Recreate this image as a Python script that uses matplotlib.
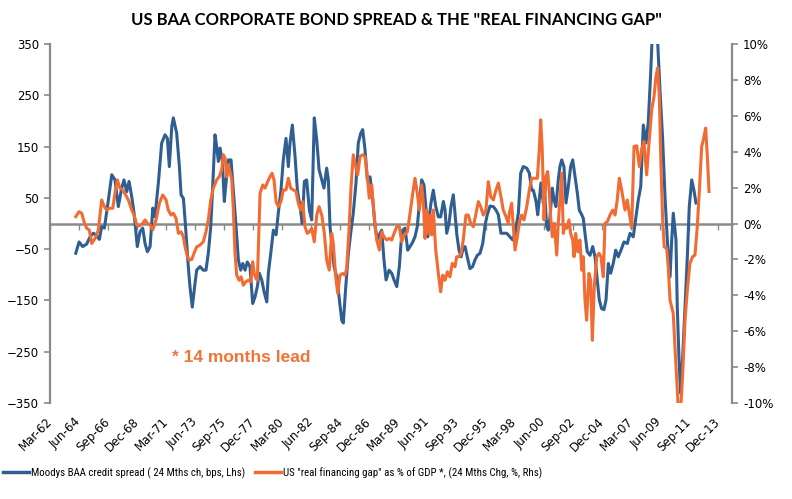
import matplotlib
matplotlib.use("Agg")
import matplotlib.pyplot as plt
from matplotlib import font_manager
from matplotlib.lines import Line2D

# Moodys BAA credit spread, 24m change (bps, lhs)
baa_dates = [1964.16, 1964.42, 1964.70, 1965.01, 1965.27, 1965.52, 1965.73, 1965.99, 1966.17, 1966.38,
             1966.69, 1966.95, 1967.20, 1967.46, 1967.72, 1967.90, 1968.11, 1968.29, 1968.50, 1968.68,
             1968.93, 1969.14, 1969.35, 1969.53, 1969.71, 1969.92, 1970.13, 1970.30, 1970.56, 1970.82,
             1971.08, 1971.26, 1971.41, 1971.60, 1971.72, 1971.98, 1972.19, 1972.32, 1972.50, 1972.63,
             1972.76, 1972.88, 1973.01, 1973.19, 1973.40, 1973.53, 1973.79, 1974.04, 1974.25, 1974.43,
             1974.62, 1974.77, 1974.95, 1975.08, 1975.21, 1975.34, 1975.52, 1975.67, 1975.80, 1975.98,
             1976.19, 1976.37, 1976.58, 1976.76, 1976.94, 1977.10, 1977.28, 1977.45, 1977.66, 1977.87,
             1978.05, 1978.23, 1978.38, 1978.57, 1978.75, 1978.96, 1979.08, 1979.27, 1979.47, 1979.68,
             1979.85, 1980.06, 1980.24, 1980.45, 1980.63, 1980.76, 1980.94, 1981.15, 1981.33, 1981.54,
             1981.71, 1981.87, 1982.05, 1982.26, 1982.44, 1982.64, 1982.83, 1983.01, 1983.22, 1983.39,
             1983.60, 1983.73, 1983.86, 1984.04, 1984.17, 1984.38, 1984.56, 1984.77, 1984.89, 1985.08,
             1985.28, 1985.46, 1985.66, 1985.87, 1986.05, 1986.24, 1986.39, 1986.57, 1986.75, 1986.96,
             1987.17, 1987.35, 1987.52, 1987.73, 1987.86, 1988.04, 1988.20, 1988.43, 1988.64, 1988.82,
             1989.03, 1989.23, 1989.36, 1989.49, 1989.67, 1989.88, 1990.06, 1990.27, 1990.44, 1990.62,
             1990.83, 1990.96, 1991.14, 1991.30, 1991.43, 1991.55, 1991.68, 1991.86, 1992.05, 1992.25,
             1992.43, 1992.64, 1992.77, 1992.90, 1993.08, 1993.23, 1993.41, 1993.54, 1993.67, 1993.85,
             1994.01, 1994.18, 1994.32, 1994.49, 1994.70, 1994.91, 1995.09, 1995.27, 1995.48, 1995.69,
             1995.87, 1996.04, 1996.25, 1996.51, 1996.72, 1996.90, 1997.10, 1997.28, 1997.55, 1997.80,
             1998.01, 1998.19, 1998.45, 1998.63, 1998.83, 1999.10, 1999.30, 1999.48, 1999.61, 1999.82,
             1999.95, 2000.07, 2000.20, 2000.38, 2000.51, 2000.64, 2000.77, 2000.90, 2001.08, 2001.21,
             2001.36, 2001.54, 2001.67, 2001.81, 2001.98, 2002.14, 2002.32, 2002.50, 2002.66, 2002.84,
             2003.02, 2003.17, 2003.36, 2003.48, 2003.61, 2003.79, 2004.00, 2004.21, 2004.39, 2004.56,
             2004.72, 2004.90, 2005.08, 2005.24, 2005.42, 2005.60, 2005.80, 2005.99, 2006.19, 2006.40,
             2006.63, 2006.89, 2007.10, 2007.35, 2007.56, 2007.74, 2007.93, 2008.13, 2008.34, 2008.51,
             2008.70, 2008.86, 2009.03, 2009.21, 2009.42, 2009.63, 2009.81, 2009.99, 2010.20, 2010.33,
             2010.45, 2010.66, 2010.76, 2010.89, 2011.02, 2011.18, 2011.36, 2011.54, 2011.69, 2011.88,
             2012.05, 2012.21]
baa_bps = [-58, -36, -45, -40, -26, -19, -22, -31, -6, -9,
           46, 95, 85, 33, 69, 85, 62, 82, 52, 20,
           -45, -16, -9, -39, -55, -45, 30, 13, 79, 157,
           173, 166, 111, 189, 206, 176, 111, 56, 49, 7,
           -39, -84, -123, -163, -117, -91, -84, -91, -91, -58,
           -6, 72, 173, 150, 121, 147, 121, 43, 79, 124,
           124, 65, -6, -71, -91, -78, -91, -75, -84, -156,
           -143, -123, -97, -110, -133, -153, -97, -58, -13, -22,
           20, 65, 124, 166, 111, 157, 192, 131, 65, 33,
           0, 82, 85, 26, 7, 206, 163, 105, 85, 69,
           108, 85, -6, -52, -84, -104, -143, -189, -194, -123,
           -58, -19, 20, 79, 157, 176, 183, 144, 85, 91,
           46, -6, -32, -19, -13, -71, -110, -91, -97, -110,
           -123, -84, -38, -13, -9, -52, -45, -36, -26, -6,
           52, 85, 75, 26, -26, 13, 40, 65, 33, 13,
           13, 43, 26, -19, 0, 33, 56, 20, -19, -52,
           -65, -48, -45, -65, -88, -84, -71, -62, -58, -39,
           -3, 17, 34, 33, 26, 17, -19, -19, -19, -26,
           -32, -19, 20, 98, 111, 108, 98, 65, 65, 43,
           17, 46, 79, 40, 52, -6, -13, 13, 69, 46,
           33, 85, 111, 124, 111, 40, 72, 111, 124, 91,
           59, 26, 17, 10, -19, -55, -62, -45, -65, -110,
           -149, -166, -168, -149, -78, -97, -78, -52, -65, -52,
           -36, -39, -19, -26, 13, 46, 72, 192, 157, 196,
           293, 390, 440, 370, 261, 163, 52, -32, -104, -32,
           20, -32, -163, -260, -331, -260, -163, -65, 33, 85,
           65, 40]

# US "real financing gap" as % of GDP, 24m change (%, rhs), shifted 14 months
gap_dates = [1964.16, 1964.42, 1964.63, 1964.80, 1965.01, 1965.21, 1965.40, 1965.66, 1965.91, 1966.17,
             1966.38, 1966.56, 1966.76, 1967.03, 1967.20, 1967.38, 1967.59, 1967.80, 1968.03, 1968.24,
             1968.50, 1968.68, 1968.89, 1969.09, 1969.35, 1969.53, 1969.71, 1969.92, 1970.13, 1970.38,
             1970.64, 1970.90, 1971.16, 1971.33, 1971.54, 1971.72, 1971.93, 1972.11, 1972.32, 1972.50,
             1972.63, 1972.81, 1972.96, 1973.15, 1973.32, 1973.53, 1973.79, 1974.04, 1974.25, 1974.43,
             1974.62, 1974.82, 1975.08, 1975.28, 1975.47, 1975.59, 1975.73, 1975.86, 1975.98, 1976.11,
             1976.25, 1976.37, 1976.50, 1976.63, 1976.81, 1976.97, 1977.14, 1977.33, 1977.53, 1977.72,
             1977.87, 1977.99, 1978.13, 1978.23, 1978.34, 1978.44, 1978.65, 1978.82, 1979.03, 1979.21,
             1979.37, 1979.52, 1979.68, 1979.85, 1980.06, 1980.24, 1980.45, 1980.63, 1980.81, 1981.02,
             1981.23, 1981.40, 1981.59, 1981.74, 1981.92, 1982.10, 1982.26, 1982.44, 1982.64, 1982.83,
             1983.01, 1983.22, 1983.42, 1983.60, 1983.80, 1983.99, 1984.11, 1984.30, 1984.46, 1984.63,
             1984.84, 1985.02, 1985.15, 1985.33, 1985.49, 1985.66, 1985.85, 1986.00, 1986.18, 1986.39,
             1986.57, 1986.75, 1986.90, 1987.09, 1987.27, 1987.48, 1987.68, 1987.86, 1988.04, 1988.25,
             1988.45, 1988.64, 1988.82, 1989.03, 1989.23, 1989.41, 1989.61, 1989.85, 1990.06, 1990.27,
             1990.44, 1990.62, 1990.78, 1990.96, 1991.09, 1991.22, 1991.35, 1991.48, 1991.61, 1991.74,
             1991.86, 1992.05, 1992.25, 1992.43, 1992.59, 1992.77, 1992.95, 1993.15, 1993.33, 1993.54,
             1993.67, 1993.85, 1994.01, 1994.18, 1994.39, 1994.57, 1994.76, 1994.96, 1995.17, 1995.35,
             1995.53, 1995.73, 1995.94, 1996.12, 1996.31, 1996.51, 1996.72, 1996.90, 1997.10, 1997.28,
             1997.49, 1997.67, 1997.75, 1997.93, 1998.06, 1998.19, 1998.37, 1998.52, 1998.70, 1998.89,
             1999.10, 1999.30, 1999.48, 1999.74, 1999.92, 2000.07, 2000.18, 2000.30, 2000.44, 2000.59,
             2000.72, 2000.84, 2000.95, 2001.08, 2001.23, 2001.42, 2001.54, 2001.67, 2001.81, 2001.93,
             2002.06, 2002.19, 2002.37, 2002.50, 2002.66, 2002.76, 2002.89, 2003.05, 2003.22, 2003.36,
             2003.48, 2003.61, 2003.74, 2003.92, 2004.05, 2004.18, 2004.33, 2004.52, 2004.70, 2004.85,
             2005.03, 2005.16, 2005.34, 2005.55, 2005.76, 2005.94, 2006.11, 2006.27, 2006.45, 2006.71,
             2006.89, 2007.04, 2007.23, 2007.41, 2007.62, 2007.82, 2008.00, 2008.18, 2008.39, 2008.59,
             2008.78, 2008.96, 2009.11, 2009.24, 2009.37, 2009.50, 2009.63, 2009.75, 2009.94, 2010.06,
             2010.20, 2010.33, 2010.45, 2010.58, 2010.71, 2010.84, 2011.02, 2011.18, 2011.36, 2011.54,
             2011.74, 2011.95, 2012.13, 2012.31, 2012.46, 2012.65, 2012.78, 2012.96, 2013.09, 2013.22]
gap_pct = [0.38, 0.66, 0.57, 0.10, -0.27, -0.36, -1.11, -0.83, -0.36, 1.31,
           0.94, 0.75, 0.85, 0.85, 1.69, 2.43, 1.97, 1.87, 1.59, 1.31,
           0.75, 0.47, -0.08, -0.14, 0.01, 0.20, 0.01, -0.08, -0.36, 0.20,
           1.13, 1.59, 1.31, 0.75, 0.47, 0.57, 0.29, -0.55, -0.46, -0.74,
           -1.30, -1.85, -2.04, -2.00, -1.66, -1.30, -1.20, -1.02, -0.46, 0.20,
           1.31, 1.97, 2.43, 2.61, 2.99, 3.83, 3.64, 2.61, 3.27, 2.89,
           2.43, 0.75, -1.66, -2.88, -3.16, -2.97, -3.44, -3.25, -3.16, -3.25,
           -2.13, -2.78, -3.06, -3.16, -0.55, 1.69, 2.15, 1.97, 2.33, 2.61,
           2.80, 2.43, 1.22, 0.94, 1.22, 1.87, 1.87, 2.52, 1.97, 1.87,
           1.78, 1.13, 0.75, 1.22, -0.18, -0.55, -0.46, -0.27, -1.02, 0.47,
           0.94, 0.47, -0.55, -2.04, -2.60, -0.55, -1.11, -2.97, -3.90, -2.88,
           -2.78, -2.88, -2.50, -0.36, 2.06, 3.83, 3.17, 2.71, 3.73, 3.83,
           3.73, 2.61, 1.41, 2.15, 0.47, -0.92, -1.48, -0.46, -0.74, -0.92,
           -0.83, -0.92, -0.55, -0.18, -0.18, -1.02, -0.64, -0.46, 0.57, 1.69,
           2.52, 1.69, 0.75, 2.15, 1.13, -0.83, 0.75, -0.55, 0.47, -0.64,
           0.75, -1.48, -2.78, -3.81, -2.88, -3.16, -2.69, -2.97, -2.22, -2.41,
           -1.85, -1.85, -1.66, -0.92, 0.47, 0.47, 0.01, -0.18, 0.57, 1.22,
           0.94, 0.47, 0.75, 2.33, 1.50, 1.31, 1.87, 2.25, 1.50, 0.75,
           0.38, 0.01, 0.57, 1.13, -0.18, -1.48, -0.74, 0.01, 0.47, 0.20,
           0.94, 1.87, 2.52, 2.52, 2.52, 4.11, 5.78, 4.11, 0.20, 2.61,
           2.89, 1.87, 0.38, -0.74, 0.01, -1.76, 0.01, 1.31, 2.80, -0.55,
           -0.08, -0.27, 0.20, -0.55, -0.92, -1.85, -0.55, -1.58, -0.92, -2.60,
           -1.85, -4.27, -5.39, -2.78, -3.16, -6.51, -3.53, -1.85, -1.66, -1.85,
           -2.97, 0.01, 0.10, 0.47, 0.75, 0.47, 1.31, 2.52, 1.87, 0.75,
           1.31, 0.57, -0.25, 4.29, 4.33, 3.17, 4.11, 4.57, 2.71, 4.66,
           6.34, 7.08, 8.20, 8.67, 7.08, 3.17, 0.20, -1.30, -1.39, -2.41,
           -4.27, -4.65, -5.02, -6.88, -8.56, -10.4, -10.4, -8.37, -5.39, -3.71,
           -2.22, -1.85, -1.76, -0.18, 1.69, 4.29, 4.66, 5.32, 3.73, 1.78]

tick_labels = ['Mar-62', 'Jun-64', 'Sep-66', 'Dec-68', 'Mar-71', 'Jun-73', 'Sep-75', 'Dec-77',
               'Mar-80', 'Jun-82', 'Sep-84', 'Dec-86', 'Mar-89', 'Jun-91', 'Sep-93', 'Dec-95',
               'Mar-98', 'Jun-00', 'Sep-02', 'Dec-04', 'Mar-07', 'Jun-09', 'Sep-11', 'Dec-13']
first_tick = 1962 + 2 / 12.0   # Mar-62
tick_step = 2.25               # 27 months between labels
tick_pos = [first_tick + tick_step * i for i in range(len(tick_labels))]

# pick a narrow face for the legend (Calibri-like) if one is around
names = {f.name for f in font_manager.fontManager.ttflist}
legend_prop = {'family': 'DejaVu Sans', 'stretch': 'condensed', 'size': 7.5}
for cand in ('Roboto Condensed', 'Liberation Sans Narrow', 'Open Sans Condensed'):
    if cand in names:
        legend_prop = {'family': cand, 'size': 7.8}
        break

BLUE = '#2F5E93'
ORANGE = '#F26B33'
GREY = '#8A8A8A'

fig = plt.figure(figsize=(7.92, 4.99), dpi=100)
ax = fig.add_axes([50 / 792, 1 - 403 / 499, 682 / 792, 359 / 499])
ax2 = ax.twinx()

ax.plot(baa_dates, baa_bps, color=BLUE, lw=2.2, zorder=3)
ax2.plot(gap_dates, gap_pct, color=ORANGE, lw=2.2, zorder=3)

ax.set_xlim(first_tick, 2015.0)
ax.set_ylim(-350, 350)
ax2.set_ylim(-10, 10)
ax.set_yticks(range(-350, 351, 100))
ax2.set_yticks(range(-10, 11, 2))
ax2.set_yticklabels([f'{v}%' for v in range(-10, 11, 2)])

for a in (ax, ax2):
    a.spines['top'].set_visible(False)
    for s in ('left', 'right'):
        a.spines[s].set_color(GREY)
        a.spines[s].set_linewidth(1.6)
    a.tick_params(axis='y', colors=GREY, length=4, width=1.2, labelsize=8.5,
                  labelcolor='black', pad=4)
ax2.spines['bottom'].set_visible(False)
ax.spines['right'].set_visible(False)
ax2.spines['left'].set_visible(False)

# zero line carrying the small date ticks
ax.spines['bottom'].set_position(('data', 0))
ax.spines['bottom'].set_color(GREY)
ax.spines['bottom'].set_linewidth(1.8)
ax.set_xticks(tick_pos)
ax.tick_params(axis='x', colors=GREY, length=4, width=1.0, direction='out',
               labelbottom=False)

# date labels below the plot
sec = ax.secondary_xaxis('bottom')
sec.spines['bottom'].set_visible(False)
sec.set_xticks(tick_pos)
sec.set_xticklabels(tick_labels, rotation=45, ha='right', va='center',
                    rotation_mode='anchor', fontsize=8.5)
sec.tick_params(axis='x', length=0, pad=12)

fig.text(0.5, 1 - 20 / 499, 'US BAA CORPORATE BOND SPREAD & THE "REAL FINANCING GAP"',
         ha='center', va='center', fontsize=12, fontweight='bold', family='Lato')

ax.text(1971.6, -262, '* 14 months lead', color='#F07438', fontsize=12.5,
        fontweight='bold', family='Liberation Sans', va='center', ha='left')

handles = [Line2D([], [], color=BLUE, lw=2.5), Line2D([], [], color=ORANGE, lw=2.5)]
labels = ['Moodys BAA credit spread ( 24 Mths ch, bps, Lhs)',
          'US "real financing gap" as % of GDP *, (24 Mths Chg, %, Rhs)']
fig.legend(handles, labels, loc='center left', bbox_to_anchor=(0.0, 1 - 473 / 499),
           ncol=2, frameon=False, handlelength=2.4, handletextpad=0.2,
           columnspacing=0.9, borderaxespad=0.0, borderpad=0.3, prop=legend_prop)

fig.savefig('out.png', dpi=100)
